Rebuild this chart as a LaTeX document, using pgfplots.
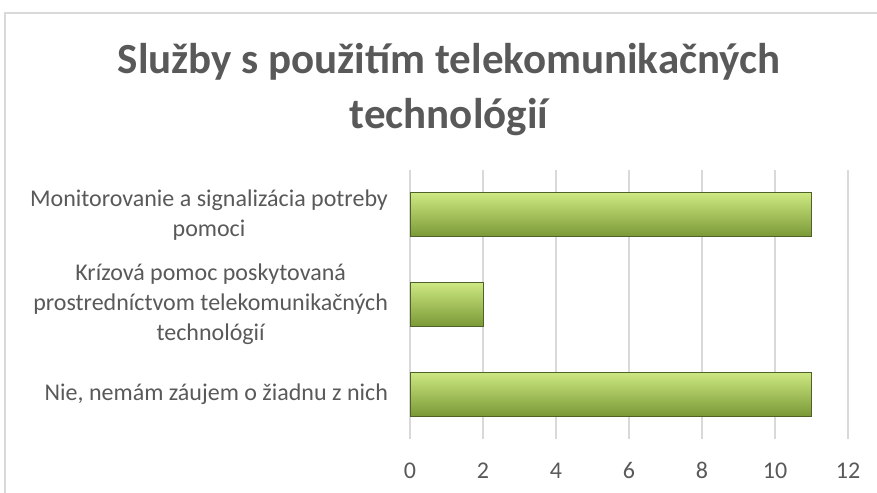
\documentclass[border=0pt]{standalone}
\usepackage{pgfplots}
\pgfplotsset{compat=1.18}
\usepackage{fontspec}
\setmainfont{Carlito}
\definecolor{txt}{HTML}{595959}
\definecolor{gridc}{HTML}{D9D9D9}
\definecolor{barTop}{HTML}{CDE882}
\definecolor{barMid}{HTML}{9FC154}
\definecolor{barBot}{HTML}{7A9936}
\definecolor{barEdge}{HTML}{4F6228}
\tikzset{mybar/.style={draw=barEdge, line width=0.5pt, top color=barTop, middle color=barMid, bottom color=barBot}}
\begin{document}
\begin{tikzpicture}
\useasboundingbox (0pt,0pt) rectangle (438.5pt,246pt);
\draw[gridc, line width=0.75pt] (2.5pt,239.5pt) rectangle (450pt,-10pt);
\node[font=\fontsize{21.5}{27.5}\selectfont\bfseries, text=txt, align=center] at (224.5pt,201pt) {Služby s použitím telekomunikačných\\technológií};
\begin{axis}[
  at={(205pt,26.5pt)}, anchor=south west,
  width=219pt, height=134.5pt, scale only axis,
  xbar, bar width=22pt, bar shift=0pt,
  xmin=0, xmax=12, ymin=-0.5, ymax=2.5, y dir=reverse,
  xtick={0,2,4,6,8,10,12},
  ytick={0,1,2},
  yticklabels={{Monitorovanie a signalizácia potreby\\pomoci},{Krízová pomoc poskytovaná\\prostredníctvom telekomunikačných\\technológií},{Nie, nemám záujem o žiadnu z nich}},
  xmajorgrids, major grid style={draw=gridc, line width=0.75pt},
  axis line style={draw=none},
  major tick length=0pt,
  tick label style={text=txt, font=\fontsize{12}{15}\selectfont},
  xticklabel style={anchor=base, yshift=-19.5pt},
  yticklabel style={align=center, anchor=east, xshift=-7.5pt},
  /pgf/number format/assume math mode=true,
]
\addplot[mybar] coordinates {(11,0)};
\addplot[mybar] coordinates {(2,1)};
\addplot[mybar] coordinates {(11,2)};
\end{axis}
\end{tikzpicture}
\end{document}
